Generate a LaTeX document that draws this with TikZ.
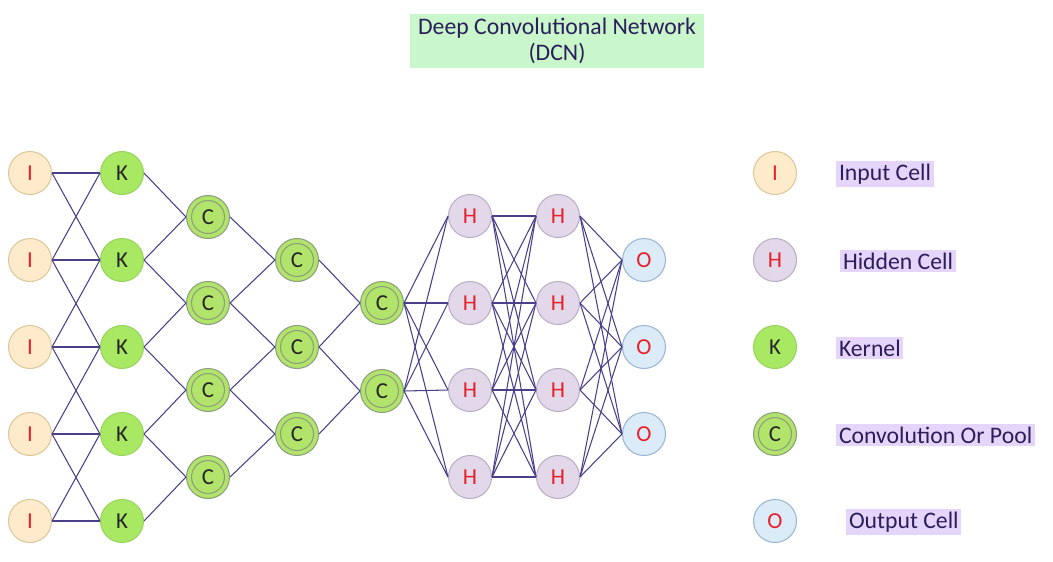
\documentclass[tikz,border=0pt]{standalone}
\usepackage{fontspec}
\setmainfont{Carlito}
\usepackage{tikz}

\definecolor{inputfill}{HTML}{FDEBCB}
\definecolor{inputborder}{HTML}{DCC79A}
\definecolor{kernelfill}{HTML}{A8E862}
\definecolor{kernelborder}{HTML}{98D45C}
\definecolor{convfill}{HTML}{B2E46C}
\definecolor{convborder}{HTML}{8C9E7C}
\definecolor{hiddenfill}{HTML}{E2D8EA}
\definecolor{hiddenborder}{HTML}{B9AEC6}
\definecolor{outputfill}{HTML}{DCEBF8}
\definecolor{outputborder}{HTML}{9AB6D3}
\definecolor{cellred}{HTML}{E8202A}
\definecolor{linkcolor}{HTML}{4B3F8A}
\definecolor{legendfill}{HTML}{E6D5FB}
\definecolor{legendtext}{HTML}{2B1E5A}
\definecolor{titlefill}{HTML}{C9F7CB}

\tikzset{
    cell/.style={circle, draw, line width=0.6pt, minimum size=0.86cm, inner sep=0pt, font=\fontsize{13}{14}\selectfont},
    input/.style={cell, draw=inputborder, fill=inputfill, text=cellred},
    kernel/.style={cell, draw=kernelborder, fill=kernelfill, text=black!85},
    conv/.style={cell, draw=convborder, fill=convfill, text=black!85,
        path picture={\draw [convborder, line width=0.6pt] (path picture bounding box.center) circle (0.33cm);}},
    hidden/.style={cell, draw=hiddenborder, fill=hiddenfill, text=cellred},
    output/.style={cell, draw=outputborder, fill=outputfill, text=cellred},
    legend/.style={fill=legendfill, text=legendtext, anchor=west, inner sep=1.5pt, font=\fontsize{13.5}{14}\selectfont},
    link/.style={draw=linkcolor, line width=0.6pt}
}

\begin{document}
\begin{tikzpicture}[x=0.02cm, y=-0.02cm]
    \useasboundingbox (0,0) rectangle (1053,561);
    % title
    \node [fill=titlefill, text=legendtext, align=center, minimum width=5.9cm, minimum height=1.08cm, inner sep=0pt, font=\fontsize{13.5}{15}\selectfont] at (557,41) (title) {Deep Convolutional Network\\(DCN)};
    % input cells
    \node [input] at (30,173) (i1) {I};
    \node [input] at (30,260) (i2) {I};
    \node [input] at (30,347) (i3) {I};
    \node [input] at (30,434) (i4) {I};
    \node [input] at (30,521) (i5) {I};
    % kernels
    \node [kernel] at (122,173) (k1) {K};
    \node [kernel] at (122,260) (k2) {K};
    \node [kernel] at (122,347) (k3) {K};
    \node [kernel] at (122,434) (k4) {K};
    \node [kernel] at (122,521) (k5) {K};
    % convolution / pool layers
    \node [conv] at (208,217) (ca1) {C};
    \node [conv] at (208,303) (ca2) {C};
    \node [conv] at (208,390) (ca3) {C};
    \node [conv] at (208,477) (ca4) {C};
    \node [conv] at (297,260) (cb1) {C};
    \node [conv] at (297,347) (cb2) {C};
    \node [conv] at (297,434) (cb3) {C};
    \node [conv] at (382,303) (cc1) {C};
    \node [conv] at (382,391) (cc2) {C};
    % hidden cells
    \node [hidden] at (470,216) (ha1) {H};
    \node [hidden] at (470,303) (ha2) {H};
    \node [hidden] at (470,390) (ha3) {H};
    \node [hidden] at (470,477) (ha4) {H};
    \node [hidden] at (558,216) (hb1) {H};
    \node [hidden] at (558,303) (hb2) {H};
    \node [hidden] at (558,390) (hb3) {H};
    \node [hidden] at (558,477) (hb4) {H};
    % output cells
    \node [output] at (644,260) (o1) {O};
    \node [output] at (644,347) (o2) {O};
    \node [output] at (644,434) (o3) {O};
    % connections, east side to west side
    \foreach \n in {1,...,5}
        \path [link] (i\n.east) -- (k\n.west);
    \foreach \n [count=\m from 2] in {1,...,4} {
        \path [link] (i\n.east) -- (k\m.west);
        \path [link] (i\m.east) -- (k\n.west);
        \path [link] (k\n.east) -- (ca\n.west);
        \path [link] (k\m.east) -- (ca\n.west);
    }
    \foreach \n [count=\m from 2] in {1,...,3} {
        \path [link] (ca\n.east) -- (cb\n.west);
        \path [link] (ca\m.east) -- (cb\n.west);
    }
    \foreach \n [count=\m from 2] in {1,2} {
        \path [link] (cb\n.east) -- (cc\n.west);
        \path [link] (cb\m.east) -- (cc\n.west);
    }
    \foreach \a in {1,2}
        \foreach \b in {1,...,4}
            \path [link] (cc\a.east) -- (ha\b.west);
    \foreach \a in {1,...,4}
        \foreach \b in {1,...,4}
            \path [link] (ha\a.east) -- (hb\b.west);
    \foreach \a in {1,...,4}
        \foreach \b in {1,...,3}
            \path [link] (hb\a.east) -- (o\b.west);
    % legend
    \node [input] at (775,173) (li) {I};
    \node [hidden] at (775,260) (lh) {H};
    \node [kernel] at (775,347) (lk) {K};
    \node [conv] at (775,434) (lc) {C};
    \node [output] at (775,521) (lo) {O};
    \node [legend] at (836,174) (tli) {Input Cell};
    \node [legend] at (840,261) (tlh) {Hidden Cell};
    \node [legend] at (836,348) (tlk) {Kernel};
    \node [legend] at (836,435) (tlc) {Convolution Or Pool};
    \node [legend] at (846,522) (tlo) {Output Cell};
\end{tikzpicture}
\end{document}
